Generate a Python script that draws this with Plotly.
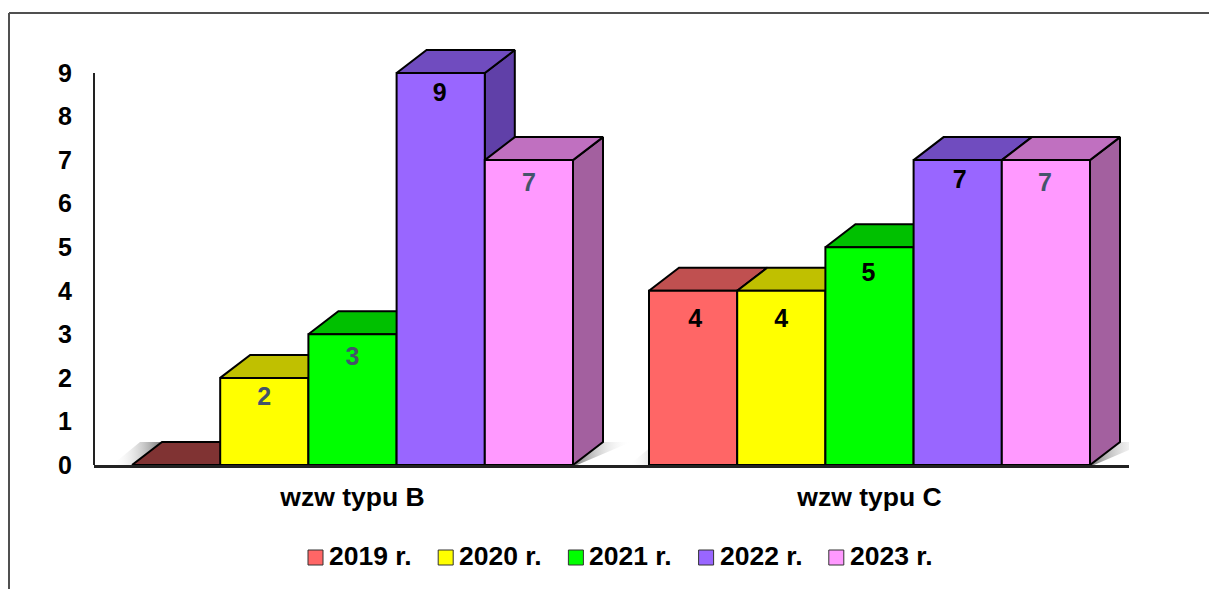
import plotly.graph_objects as go

categories = ["wzw typu B", "wzw typu C"]
years = ["2019 r.", "2020 r.", "2021 r.", "2022 r.", "2023 r."]
values_2019 = [0, 4]
values_2020 = [2, 4]
values_2021 = [3, 5]
values_2022 = [9, 7]
values_2023 = [7, 7]
series = [values_2019, values_2020, values_2021, values_2022, values_2023]
y_ticks = [0, 1, 2, 3, 4, 5, 6, 7, 8, 9]

front = ["#FF6666", "#FFFF00", "#00FF00", "#9966FF", "#FF99FF"]
top_c = ["#C05050", "#C0C000", "#00C000", "#704CBF", "#C070C0"]
side_c = ["#803333", "#808000", "#008000", "#6040A8", "#A3609F"]
label_c = [["#000000", "#000000"], ["#44546A", "#000000"], ["#44546A", "#000000"],
           ["#000000", "#000000"], ["#44546A", "#44546A"]]
label_drop_px = [[0, 30], [21, 30], [24, 28], [22, 22], [25, 25]]
label_nudge_px = [[0, 2], [0, 0], [0, -1], [-1, 2], [0, -1]]

W, H = 1209, 589
L, R, B, T = 94, 1129, 465, 47
UNIT = (465 - 73) / 9
YMAX = (B - T) / UNIT
PXX = 1 / 517
XMAX = -0.5 + (R - L) * PXX
BW = 88.2 * PXX
BARGAP = 1 - 5 * BW
DX, DY = 30 * PXX, 23 / UNIT
FONT = "Liberation Sans"


def px(x):
    return (x - L) / (R - L)


def py(y):
    return (B - y) / (B - T)


fig = go.Figure()


def shadow(xs, ys, left_dark):
    a, b = ("rgba(95,95,95,0.85)", "rgba(255,255,255,0)")
    scale = [[0, a], [1, b]] if left_dark else [[0, b], [1, a]]
    fig.add_trace(go.Scatter(x=xs, y=ys, mode="lines", line=dict(width=0), fill="toself",
                             fillgradient=dict(type="horizontal", colorscale=scale),
                             cliponaxis=False, hoverinfo="skip", showlegend=False))


for c in range(len(categories)):
    xl = c - 2.5 * BW
    xr = c + 2.5 * BW
    shadow([xr, xr + DX, xr + DX + 28 * PXX, xr + 4 * PXX], [0, DY, DY, 0], True)
    shadow([xl - 20 * PXX, xl + 8 * PXX, xl + DX, xl], [0, DY, DY, 0], False)

for s, vals in enumerate(series):
    for c, v in enumerate(vals):
        xl = c + (s - 2.5) * BW
        xr = xl + BW
        fig.add_trace(go.Scatter(
            x=[xr, xr + DX, xr + DX, xr, xr], y=[0, DY, v + DY, v, 0],
            mode="lines", line=dict(color="#000000", width=2), fill="toself",
            fillcolor=side_c[s], hoverinfo="skip", showlegend=False))
        fig.add_trace(go.Scatter(
            x=[xl, xl + DX, xr + DX, xr, xl], y=[v, v + DY, v + DY, v, v],
            mode="lines", line=dict(color="#000000", width=2), fill="toself",
            fillcolor=side_c[s] if v == 0 else top_c[s], hoverinfo="skip", showlegend=False))

for s, vals in enumerate(series):
    fig.add_trace(go.Bar(x=[0, 1], y=vals, name=years[s], xaxis="x2", yaxis="y2",
                         marker=dict(color=front[s], line=dict(color="#000000", width=2)),
                         showlegend=False))

lx, ly, lt, lc = [], [], [], []
for s, vals in enumerate(series):
    for c, v in enumerate(vals):
        if v == 0:
            continue
        lx.append(c + (s - 2) * BW + label_nudge_px[s][c] * PXX)
        ly.append(v - label_drop_px[s][c] / UNIT)
        lt.append(str(v))
        lc.append(label_c[s][c])
fig.add_trace(go.Scatter(x=lx, y=ly, text=lt, mode="text", xaxis="x2", yaxis="y2",
                         textposition="middle center",
                         textfont=dict(family=FONT, size=25, weight=700, color=lc),
                         hoverinfo="skip", showlegend=False))

shapes = [
    dict(type="line", xref="paper", yref="paper", x0=px(9), x1=px(9), y0=py(13), y1=py(589),
         line=dict(color="#505050", width=2)),
    dict(type="line", xref="paper", yref="paper", x0=px(9), x1=px(1209), y0=py(13), y1=py(13),
         line=dict(color="#505050", width=2)),
    dict(type="line", xref="paper", yref="paper", x0=px(94), x1=px(94), y0=py(465), y1=py(73),
         line=dict(color="#222222", width=2)),
]
annotations = []
for i, name in enumerate(years):
    x0 = 308 + 130.2 * i
    shapes.append(dict(type="rect", xref="paper", yref="paper", x0=px(x0), x1=px(x0 + 15),
                       y0=py(565), y1=py(550), fillcolor=front[i],
                       line=dict(color="#333333", width=1)))
    annotations.append(dict(xref="paper", yref="paper", x=px(x0 + 19), y=py(556), text=name,
                            showarrow=False, xanchor="left", yanchor="middle",
                            font=dict(family=FONT, size=26.5, weight=700, color="#000000")))

axis_font = dict(family=FONT, size=25, weight=700, color="#000000")
x_font = dict(family=FONT, size=26.5, weight=700, color="#000000")
fig.update_layout(
    width=W, height=H, margin=dict(l=L, r=W - R, t=T, b=H - B, pad=0),
    paper_bgcolor="#FFFFFF", plot_bgcolor="#FFFFFF", barmode="group",
    bargap=BARGAP, bargroupgap=0, showlegend=False, shapes=shapes, annotations=annotations,
    xaxis=dict(range=[-0.5, XMAX], tickmode="array", tickvals=[0, 1], ticktext=categories,
               tickfont=x_font, showgrid=False, zeroline=False, showline=True,
               linecolor="#222222", linewidth=3, ticks="", ticklabelstandoff=6),
    yaxis=dict(range=[0, YMAX], tickmode="array", tickvals=y_ticks, tickfont=axis_font,
               showgrid=False, zeroline=False, showline=False, ticks="", ticklabelstandoff=21),
    xaxis2=dict(range=[-0.5, XMAX], overlaying="x", visible=False),
    yaxis2=dict(range=[0, YMAX], overlaying="y", visible=False),
)
fig.write_html("out.html", config={"displayModeBar": False},
               post_script="document.body.style.margin='0';document.body.style.overflow='hidden';")
